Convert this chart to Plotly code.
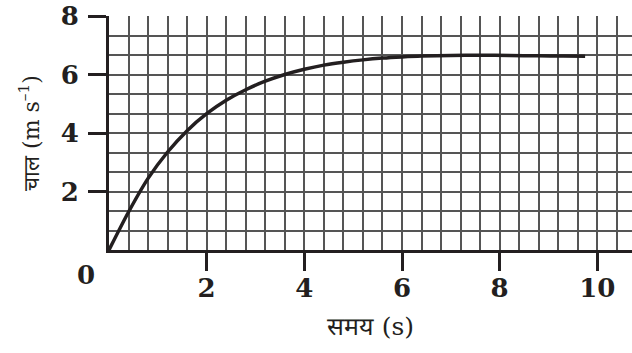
import plotly.graph_objects as go

# data
time_s = [0.0, 0.4, 0.8, 1.2, 1.6, 2.0, 2.4, 2.8, 3.2, 3.6, 4.0, 4.4, 4.8, 5.2, 5.6, 6.0, 6.4, 7.0, 7.6, 8.2, 8.8, 9.3, 9.75]
speed = [0.0, 1.30, 2.45, 3.35, 4.08, 4.66, 5.12, 5.48, 5.77, 6.00, 6.18, 6.32, 6.42, 6.50, 6.56, 6.60, 6.63, 6.65, 6.66, 6.65, 6.64, 6.63, 6.62]
x_ticks = [2, 4, 6, 8, 10]
y_ticks = [2, 4, 6, 8]
x_title = "समय (s)"
y_title = "चाल (m s<sup>–1</sup>)"

fig = go.Figure()
fig.add_trace(go.Scatter(x=time_s, y=speed, mode="lines",
                         line=dict(color="#231f20", width=3.5, shape="spline", smoothing=0.8),
                         showlegend=False, hoverinfo="skip"))

tick_font = dict(family="DejaVu Serif", size=26, color="#231f20", weight="bold")
grid_col = "#555555"

fig.update_xaxes(range=[0, 10.71], tickmode="array", tickvals=x_ticks,
                 ticktext=[str(v) for v in x_ticks],
                 ticks="outside", ticklen=18, tickwidth=3, tickcolor="#231f20",
                 showline=True, linewidth=3, linecolor="#231f20",
                 showgrid=True, gridcolor=grid_col, gridwidth=2,
                 minor=dict(dtick=0.4, tick0=0, showgrid=True, gridcolor=grid_col, gridwidth=2, ticks=""),
                 tickfont=tick_font, zeroline=False, ticklabelstandoff=-5,
                 ticklabeloverflow="allow",
                 title=dict(text=x_title, font=dict(family="DejaVu Serif", size=25, color="#231f20"), standoff=16))
fig.update_yaxes(range=[0, 8], tickmode="array", tickvals=y_ticks,
                 ticktext=[str(v) for v in y_ticks],
                 ticks="outside", ticklen=18, tickwidth=3, tickcolor="#231f20",
                 showline=True, linewidth=3, linecolor="#231f20",
                 showgrid=True, gridcolor=grid_col, gridwidth=2,
                 minor=dict(dtick=2/3, tick0=0, showgrid=True, gridcolor=grid_col, gridwidth=2, ticks=""),
                 tickfont=tick_font, zeroline=False, ticklabelstandoff=4,
                 ticklabeloverflow="allow",
                 title=dict(text=y_title, font=dict(family="DejaVu Serif", size=22, color="#231f20"), standoff=16))

fig.add_annotation(x=0, y=0, xref="x", yref="y", text="0", showarrow=False,
                   xanchor="center", yanchor="middle", xshift=-23, yshift=-25,
                   font=tick_font)

fig.update_layout(width=632, height=353, margin=dict(l=109, r=0, t=16, b=103),
                  plot_bgcolor="white", paper_bgcolor="white")

fig.write_html("out.html", config={"displayModeBar": False},
               post_script="document.body.style.margin='0px';")
